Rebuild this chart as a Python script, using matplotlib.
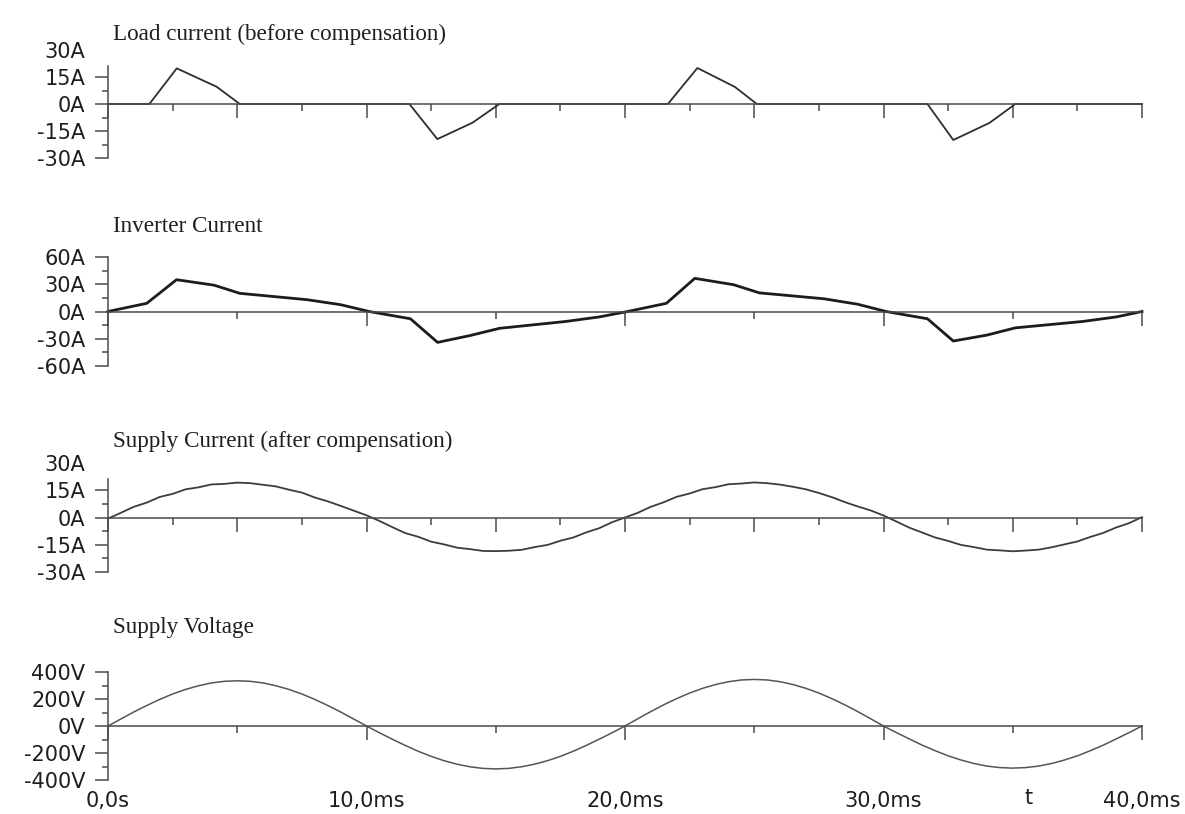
import numpy as np
import matplotlib
matplotlib.use("Agg")
import matplotlib.pyplot as plt
from matplotlib.ticker import MultipleLocator, FixedLocator

# ---------------------------------------------------------------- data
# Load current: piecewise-linear pulses (time in ms, current in A)
load_t = [0.0, 1.6, 2.66, 4.2, 5.1, 11.66, 12.74, 14.1, 15.14,
          21.66, 22.8, 24.25, 25.1, 31.7, 32.7, 34.1, 35.1, 40.0]
load_i = [0.0, 0.0, 19.8, 9.6, 0.0, 0.0, -19.5, -10.4, 0.0,
          0.0, 20.0, 9.5, 0.0, 0.0, -20.0, -10.5, 0.0, 0.0]

# Inverter current breakpoints
inv_t = [0.0, 1.5, 2.65, 4.1, 5.1, 7.7, 9.0, 10.1, 11.7, 12.75, 14.0, 15.15, 17.7, 19.0, 20.1,
         21.6, 22.7, 24.2, 25.2, 27.7, 29.0, 30.1, 31.7, 32.7, 34.0, 35.1, 37.7, 39.0, 40.0]
inv_i = [0.0, 9.0, 35.0, 29.0, 20.0, 13.0, 7.5, 0.0, -8.0, -34.0, -26.5, -18.5, -11.0, -6.0, 0.0,
         9.0, 36.5, 29.5, 20.5, 14.0, 8.0, 0.0, -8.0, -32.5, -26.0, -18.0, -11.0, -6.0, 0.0]

# Supply current after compensation, sampled every 0.5 ms
sup_t = np.arange(0, 40.01, 0.5)
sup_i = [-0.6, 2.6, 5.9, 8.2, 11.3, 13.0, 15.5, 16.6, 18.2, 18.5, 19.2,
         18.9, 18.0, 17.1, 15.3, 13.7, 11.0, 8.9, 6.4, 3.8, 1.2,
         -1.9, -5.3, -8.6, -10.6, -13.3, -14.8, -16.6, -17.4, -18.4, -18.5,
         -18.3, -17.8, -16.3, -15.1, -12.8, -11.0, -8.2, -5.9, -2.6, 0.0,
         2.6, 5.9, 8.4, 11.4, 13.2, 15.6, 16.7, 18.3, 18.7, 19.3,
         18.9, 18.1, 16.9, 15.5, 13.5, 11.2, 8.5, 6.1, 3.9, 1.1,
         -2.2, -5.6, -8.3, -11.0, -12.9, -15.1, -16.3, -17.7, -18.1, -18.6,
         -18.2, -17.7, -16.4, -14.8, -13.2, -10.7, -8.5, -5.5, -3.1, 0.2]

# Supply voltage, sampled every 0.5 ms
volt_t = np.arange(0, 40.01, 0.5)
volt_v = [0, 52, 104, 152, 197, 237, 271, 298, 319, 331, 335,
          331, 319, 298, 271, 237, 197, 152, 104, 52, 0,
          -50, -98, -144, -187, -225, -257, -283, -302, -314, -318,
          -314, -302, -283, -257, -225, -187, -144, -98, -50, 0,
          54, 107, 157, 203, 244, 279, 307, 328, 341, 345,
          341, 328, 307, 279, 244, 203, 157, 107, 54, 0,
          -49, -96, -142, -183, -221, -252, -278, -297, -308, -312,
          -308, -297, -278, -252, -221, -183, -142, -96, -49, 0]

titles = ["Load current (before compensation)", "Inverter Current",
          "Supply Current (after compensation)", "Supply Voltage"]
y_ticks = [[30, 15, 0, -15, -30], [60, 30, 0, -30, -60],
           [30, 15, 0, -15, -30], [400, 200, 0, -200, -400]]
y_units = ["A", "A", "A", "V"]
x_tick_labels = ["0,0s", "10,0ms", "20,0ms", "30,0ms", "40,0ms"]
x_tick_pos = [0, 10, 20, 30, 40]

# ---------------------------------------------------------------- layout
W, H = 1185, 814
fig = plt.figure(figsize=(W / 100, H / 100), dpi=100)
fig.patch.set_facecolor("white")

AXC = "#4a4a4a"
TXT = "#1e1e1e"
SANS = "DejaVu Sans"
SERIF = "Liberation Serif"

x0, x1 = 108, 1142
# (pixel y of top limit, pixel y of bottom limit)
panels_px = [(50, 158), (257, 366), (463, 572), (672, 780)]
title_base = [40, 232, 447, 633]
spine_top = [21.0, 60, 21.0, 400]
x_major = [5, 10, 5, 10]
x_minor = [2.5, 5, 2.5, 5]

axes = []
for k, (ytop, ybot) in enumerate(panels_px):
    ax = fig.add_axes([x0 / W, 1 - ybot / H, (x1 - x0) / W, (ybot - ytop) / H])
    ax.set_facecolor("none")
    lim = y_ticks[k][0]
    ax.set_ylim(-lim, lim)
    ax.set_xlim(0, 40)
    for s in ("top", "right"):
        ax.spines[s].set_visible(False)
    ax.spines["bottom"].set_position(("data", 0))
    ax.spines["bottom"].set_bounds(0, 40)
    ax.spines["left"].set_bounds(-lim, spine_top[k])
    for s in ("bottom", "left"):
        ax.spines[s].set_color(AXC)
        ax.spines[s].set_linewidth(1.1)

    ax.xaxis.set_major_locator(MultipleLocator(x_major[k]))
    ax.xaxis.set_minor_locator(MultipleLocator(x_minor[k]))
    ax.tick_params(axis="x", which="major", direction="out", length=10,
                   width=1.1, color=AXC, labelbottom=False)
    ax.tick_params(axis="x", which="minor", direction="out", length=5,
                   width=1.1, color=AXC)

    ax.yaxis.set_major_locator(FixedLocator(y_ticks[k]))
    ax.set_yticklabels([f"{v}{y_units[k]}" for v in y_ticks[k]])
    ax.tick_params(axis="y", which="major", direction="out", length=9.5,
                   width=1.1, color=AXC, pad=7, labelsize=15, labelcolor=TXT)
    ax.tick_params(axis="y", which="minor", direction="out", length=4.5,
                   width=1.1, color=AXC)
    for lab in ax.get_yticklabels():
        lab.set_family(SANS)
    # minor ticks only along the drawn part of the spine
    ax.yaxis.set_minor_locator(FixedLocator(
        [v for v in np.arange(-lim, lim + 0.1, lim / 4) if v <= spine_top[k]]))
    # labels beyond the spine keep their text but lose the tick mark
    for tick, v in zip(ax.yaxis.get_major_ticks(), y_ticks[k]):
        if v > spine_top[k]:
            tick.tick1line.set_visible(False)

    fig.text(113 / W, 1 - title_base[k] / H, titles[k], family=SERIF,
             fontsize=16.7, color=TXT, va="baseline", ha="left")
    axes.append(ax)

axes[0].plot(load_t, load_i, color="#2e2e2e", lw=1.3, clip_on=False)
axes[1].plot(inv_t, inv_i, color="#1c1c1c", lw=2.0, clip_on=False)
axes[2].plot(sup_t, sup_i, color="#3c3c3c", lw=1.3, clip_on=False)
axes[3].plot(volt_t, volt_v, color="#555555", lw=1.1, clip_on=False)

# time labels under the bottom panel
ax = axes[3]
for xp, lab in zip(x_tick_pos, x_tick_labels):
    ax.text(xp, -0.19, lab, transform=ax.get_xaxis_transform(), ha="center",
            va="center", family=SANS, fontsize=15, color=TXT)
ax.text(35.6, -0.17, "t", transform=ax.get_xaxis_transform(), ha="center",
        va="center", family=SANS, fontsize=15, color=TXT)

fig.savefig("out.png", dpi=100, facecolor="white")
